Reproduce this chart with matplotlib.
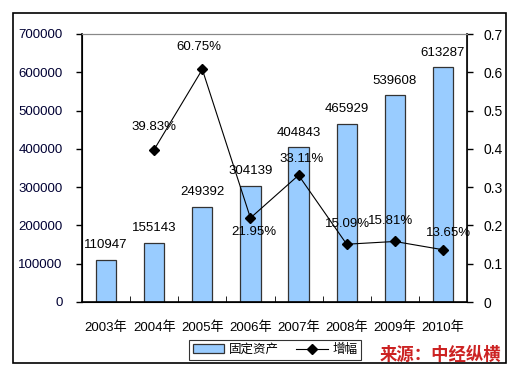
import matplotlib.pyplot as plt
from matplotlib.patches import Rectangle

plt.rcParams['font.family'] = ['Liberation Sans', 'Noto Sans CJK SC']

years = ['2003年', '2004年', '2005年', '2006年', '2007年', '2008年', '2009年', '2010年']
assets = [110947, 155143, 249392, 304139, 404843, 465929, 539608, 613287]
growth = [None, 0.3983, 0.6075, 0.2195, 0.3311, 0.1509, 0.1581, 0.1365]
growth_labels = ['', '39.83%', '60.75%', '21.95%', '33.11%', '15.09%', '15.81%', '13.65%']
# label offsets in pixels
label_offsets = [(0, 0), (0, 23), (-3, 22), (3, -14), (3, 16), (1, 20), (-4, 20), (6, 17)]

fig = plt.figure(figsize=(5.08, 3.67), dpi=100)
fig.patches.append(Rectangle((13 / 508, 4 / 367), 493 / 508, 350 / 367, transform=fig.transFigure,
                             fill=False, edgecolor='black', linewidth=1.2))

ax = fig.add_axes([82 / 508, 65 / 367, 385 / 508, 268 / 367])
x = range(len(years))
bars = ax.bar(x, assets, width=0.42, color='#99CCFF', edgecolor='#333333', linewidth=0.9,
              label='固定资产', zorder=2)
for xi, v in zip(x, assets):
    ax.annotate(str(v), (xi, v), xytext=(0, 6), textcoords='offset points',
                ha='center', va='bottom', fontsize=9.5)

ax.set_xlim(-0.5, len(years) - 0.5)
ax.set_ylim(0, 700000)
ax.set_yticks(range(0, 700001, 100000))
ax.set_yticklabels([str(v) for v in range(0, 700001, 100000)], fontsize=9.5, color='#000033')
ax.set_xticks(list(x))
ax.set_xticklabels(years, fontsize=9.5)
ax.set_xticks([i + 0.5 for i in range(len(years) - 1)], minor=True)
ax.tick_params(axis='x', which='major', length=0, pad=14)
ax.tick_params(axis='x', which='minor', direction='in', length=4)
ax.tick_params(axis='y', direction='out', length=4, width=1, pad=10)
for s in ['top', 'right']:
    ax.spines[s].set_color('#888888')
ax.spines['left'].set_linewidth(1.2)
ax.spines['bottom'].set_linewidth(1.2)

ax2 = ax.twinx()
gx = [i for i, g in enumerate(growth) if g is not None]
gy = [g for g in growth if g is not None]
line, = ax2.plot(gx, gy, color='black', linewidth=0.8, marker='D', markersize=5,
                 label='增幅', zorder=3)
for i in gx:
    dx, dy = label_offsets[i]
    ax2.annotate(growth_labels[i], (i, growth[i]), xytext=(dx, dy), textcoords='offset pixels',
                 ha='center', va='center', fontsize=9.5)
ax2.set_ylim(0, 0.7)
ax2.set_yticks([0, 0.1, 0.2, 0.3, 0.4, 0.5, 0.6, 0.7])
ax2.set_yticklabels(['0', '0.1', '0.2', '0.3', '0.4', '0.5', '0.6', '0.7'], fontsize=10)
ax2.tick_params(axis='y', direction='out', length=4, width=1, pad=8)
ax2.spines['right'].set_linewidth(1.2)
ax2.spines['top'].set_color('#888888')

leg = fig.legend([bars, line], ['固定资产', '增幅'], loc='center', bbox_to_anchor=(275 / 508, 17 / 367),
                 ncol=2, fontsize=9, frameon=True, fancybox=False, edgecolor='black',
                 handlelength=2.5, borderpad=0.3, columnspacing=1.4, handletextpad=0.4)
leg.get_frame().set_linewidth(0.8)

fig.text(501 / 508, 13 / 367, '来源：中经纵横', color='#CC2222', fontsize=12.5, fontweight='bold',
         style='italic', ha='right', va='center')

fig.savefig('out.png', dpi=100)
